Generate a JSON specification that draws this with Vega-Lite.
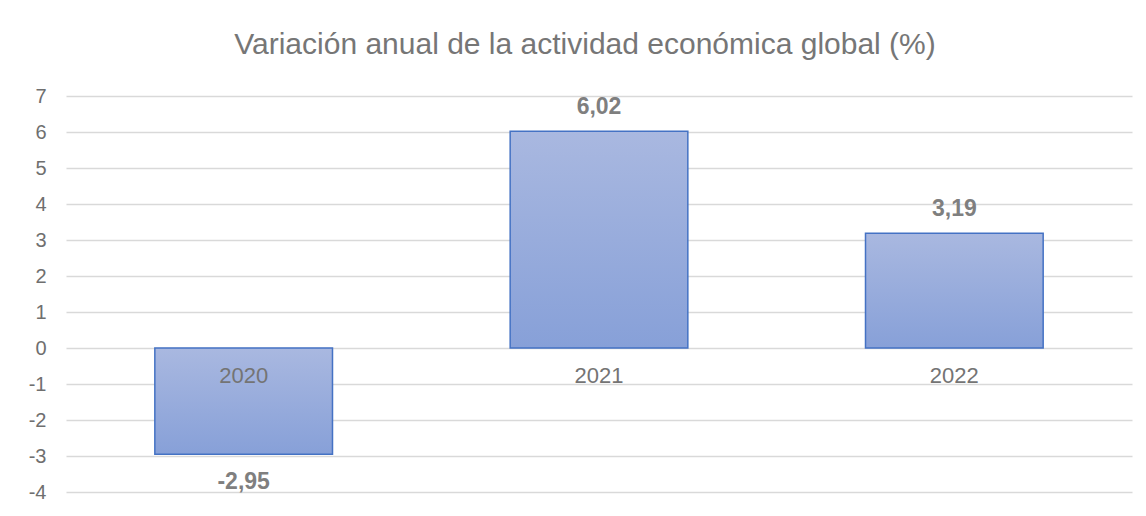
{
  "$schema": "https://vega.github.io/schema/vega-lite/v6.json",
  "autosize": {"type": "none"},
  "padding": {"left": 66, "top": 96, "right": 14, "bottom": 24},
  "width": 1066,
  "height": 396,
  "background": "white",
  "config": {
    "view": {"stroke": null},
    "font": "Liberation Sans",
    "locale": {"number": {"decimal": ",", "thousands": ".", "grouping": [3], "currency": ["", " €"], "minus": "-"}}
  },
  "title": {
    "text": "Variación anual de la actividad económica global (%)",
    "fontSize": 30,
    "fontWeight": "normal",
    "color": "#767676",
    "anchor": "middle",
    "baseline": "alphabetic",
    "dx": -14,
    "offset": 2
  },
  "data": {
    "values": [
      {"year": "2020", "value": -2.95},
      {"year": "2021", "value": 6.02},
      {"year": "2022", "value": 3.19}
    ]
  },
  "encoding": {
    "x": {
      "field": "year",
      "type": "nominal",
      "sort": null,
      "scale": {"paddingInner": 0.5, "paddingOuter": 0.25},
      "axis": {
        "title": null,
        "orient": "bottom",
        "offset": -144,
        "domain": false,
        "ticks": false,
        "grid": false,
        "labelAngle": 0,
        "labelPadding": 17,
        "labelFontSize": 22,
        "labelColor": "#747474",
        "labelFont": "Liberation Sans",
        "zindex": 1
      }
    },
    "y": {
      "field": "value",
      "type": "quantitative",
      "scale": {"domain": [-4, 7], "nice": false, "zero": true},
      "axis": {
        "title": null,
        "values": [-4, -3, -2, -1, 0, 1, 2, 3, 4, 5, 6, 7],
        "format": "d",
        "labelOverlap": false,
        "domain": false,
        "ticks": false,
        "grid": true,
        "gridColor": "#d9d9d9",
        "gridWidth": 1.4,
        "labelPadding": 20,
        "labelFontSize": 20,
        "labelColor": "#6f6f6f",
        "labelFont": "Liberation Sans"
      }
    }
  },
  "layer": [
    {
      "mark": {
        "type": "bar",
        "fill": {
          "gradient": "linear",
          "x1": 0, "y1": 0, "x2": 0, "y2": 1,
          "stops": [
            {"offset": 0, "color": "#A9B8E0"},
            {"offset": 1, "color": "#87A0D8"}
          ]
        },
        "stroke": "#4472C4",
        "strokeWidth": 1.5
      }
    },
    {
      "transform": [{"filter": "datum.value >= 0"}],
      "mark": {"type": "text", "fontSize": 23, "fontWeight": "bold", "color": "#7f7f7f", "baseline": "alphabetic", "dy": -17},
      "encoding": {
        "text": {"field": "value", "type": "quantitative", "format": ".2f"}
      }
    },
    {
      "transform": [{"filter": "datum.value < 0"}],
      "mark": {"type": "text", "fontSize": 23, "fontWeight": "bold", "color": "#7f7f7f", "baseline": "alphabetic", "dy": 35},
      "encoding": {
        "text": {"field": "value", "type": "quantitative", "format": ".2f"}
      }
    }
  ]
}
